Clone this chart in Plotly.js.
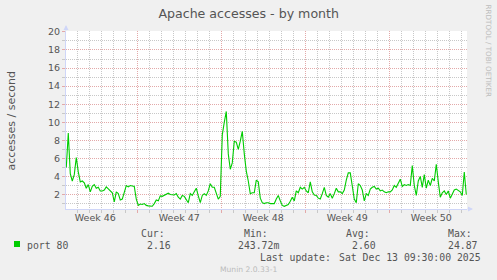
<!DOCTYPE html>
<html><head><meta charset="utf-8">
<script src="https://cdn.plot.ly/plotly-3.0.1.min.js"></script>
<style>html,body{margin:0;padding:0;background:#f0f0f0;}#chart{width:497px;height:280px;}</style>
</head><body><div id="chart"></div>
<script>
// ---- data ----
const seriesName = 'port 80';
const seriesStart = '2025-11-11T02:00:00Z';
const stepHours = 4;
const accesses = [
 5.0, 8.8, 4.3, 3.5, 4.2, 6.1, 4.5, 3.4, 3.5, 3.3,
 2.7, 3.1, 2.3, 2.9, 3.1, 2.7, 2.8, 2.4, 2.4, 2.5,
 2.85, 2.6, 2.4, 2.2, 1.2, 2.3, 2.1, 1.4, 1.5, 2.2,
 3.0, 2.85, 3.0, 2.95, 2.9, 1.5, 0.8, 0.95, 0.9, 1.0,
 0.8, 0.75, 0.75, 0.7, 1.0, 1.4, 1.3, 1.85, 1.8, 1.9,
 2.0, 2.15, 2.0, 2.0, 1.95, 2.1, 1.7, 1.5, 1.9, 1.8,
 1.5, 1.1, 2.1, 1.9, 2.3, 2.7, 1.85, 1.1, 1.9, 2.1,
 1.9, 2.4, 3.2, 2.8, 2.8, 2.1, 1.5, 1.8, 8.6, 10.0,
 11.2, 6.5, 4.8, 5.5, 7.9, 7.8, 7.0, 7.9, 9.0, 6.5,
 4.6, 3.5, 2.1, 2.2, 2.2, 3.6, 3.4, 1.6, 1.1, 1.0,
 1.1, 1.1, 1.0, 1.0, 1.0, 1.5, 1.9, 1.3, 0.8, 0.7,
 0.8, 0.9, 1.25, 1.7, 1.3, 2.4, 2.2, 2.8, 2.6, 2.8,
 2.4, 2.2, 3.4, 2.3, 1.95, 1.9, 1.6, 1.5, 2.1, 2.8,
 1.9, 1.7, 2.1, 1.6, 2.1, 2.7, 2.3, 2.3, 2.1, 2.5,
 3.6, 4.4, 4.4, 3.0, 1.5, 1.1, 3.2, 3.0, 2.5, 1.3,
 2.1, 1.9, 2.6, 2.8, 2.9, 2.6, 2.7, 2.4, 2.5, 2.3,
 2.2, 2.3, 2.3, 2.5, 3.0, 2.8, 3.2, 3.7, 2.9, 3.1,
 3.0, 3.1, 3.0, 5.2, 3.0, 1.9, 3.5, 4.0, 2.8, 4.2,
 2.7, 3.6, 3.0, 3.8, 3.5, 5.35, 3.4, 1.7, 2.2, 2.4,
 2.0, 2.4, 1.6, 2.0, 2.5, 2.6, 2.4, 2.3, 1.9, 4.5,
 2.0
];
const weekCenters = ['2025-11-13 12:00','2025-11-20 12:00','2025-11-27 12:00','2025-12-04 12:00','2025-12-11 12:00'];
const weekLabels = ['Week 46','Week 47','Week 48','Week 49','Week 50'];
const statLabels = ['Cur:','Min:','Avg:','Max:'];
const statValues = ['2.16','243.72m','2.60','24.87'];
const lastUpdateLabel = 'Last update:';
const lastUpdate = 'Sat Dec 13 09:30:00 2025';
const chartTitle = 'Apache accesses - by month';
const yTitle = 'accesses / second';
const versionText = 'Munin 2.0.33-1';
const rrdText = 'RRDTOOL / TOBI OETIKER';

// ---- build ----
const t0 = Date.parse(seriesStart);
const times = accesses.map((_, i) => new Date(t0 + i * stepHours * 3600e3).toISOString().replace('T', ' ').slice(0, 19));

const L = 66, R = 467, T = 31, B = 209, W = 497, H = 280;
const px = x => (x - L) / (R - L);
const py = y => (B - y) / (B - T);

const GREEN = '#00cc00', MGRID = '#e3a9a9', GRID = '#c8c8c8', AXIS = '#cfd6f8', FONT = '#555555';
const mono = 'DejaVu Sans Mono, monospace';
const sans = 'DejaVu Sans, sans-serif';

function txt(text, x, y, opts) {
  return Object.assign({
    text: text, xref: 'paper', yref: 'paper', x: px(x), y: py(y),
    xanchor: 'left', yanchor: 'middle', showarrow: false,
    borderpad: 0, borderwidth: 0,
    font: {family: mono, size: 9.8, color: FONT}
  }, opts || {});
}

const annotations = [];
annotations.push(txt(yTitle, 10.5, 120, {xanchor: 'center', textangle: -90, font: {family: sans, size: 11, color: FONT}}));
const RRD_TOP = 5, RRD_LEN = 92;
annotations.push(txt(rrdText, 488.5, RRD_TOP + RRD_LEN / 2, {xanchor: 'center', textangle: 90, font: {family: sans, size: 7.2, color: '#bdbdbd'}}));
annotations.push(txt(seriesName, 26.7, 245));
const hdrX = [140.7, 244, 346, 447.7];
const valX = [146.7, 237.7, 351.7, 447.7];
statLabels.forEach((s, i) => annotations.push(txt(s, hdrX[i], 233.3)));
statValues.forEach((s, i) => annotations.push(txt(s, valX[i], 245)));
annotations.push(txt(lastUpdateLabel, 331, 257.7, {xanchor: 'right'}));
annotations.push(txt(lastUpdate, 339.3, 257.7));
annotations.push(txt(versionText, 248.7, 269.3, {xanchor: 'center', font: {family: sans, size: 7.6, color: '#bbbbbb'}}));
// axis arrows
annotations.push({xref: 'paper', yref: 'paper', x: 0, y: py(25), ax: 0, ay: 7, text: '', showarrow: true,
  arrowhead: 2, arrowsize: 1, arrowwidth: 1, arrowcolor: AXIS, standoff: 0});
annotations.push({xref: 'paper', yref: 'paper', x: px(473), y: 0, ax: -7, ay: 0, text: '', showarrow: true,
  arrowhead: 2, arrowsize: 1, arrowwidth: 1, arrowcolor: AXIS, standoff: 0});

const traces = [
  {x: times, y: accesses, type: 'scatter', mode: 'lines', name: seriesName,
   line: {color: GREEN, width: 1.1}, hoverinfo: 'skip'},
  {x: weekCenters, y: weekCenters.map(() => null), xaxis: 'x2', yaxis: 'y', type: 'scatter', mode: 'lines',
   showlegend: false, hoverinfo: 'skip'}
];

const xRange = ['2025-11-11 01:26', '2025-12-14 11:26'];

const layout = {
  width: W, height: H,
  paper_bgcolor: '#f0f0f0', plot_bgcolor: '#ffffff',
  margin: {l: L, r: W - R, t: T, b: H - B, pad: 0},
  showlegend: false,
  font: {family: sans, color: FONT},
  title: {text: chartTitle, font: {family: sans, size: 12.6, color: FONT},
          x: 248.7 / W, xanchor: 'center', xref: 'container', y: 1 - 13.3 / H, yanchor: 'middle', yref: 'container'},
  xaxis: {
    type: 'date', range: xRange, tickmode: 'linear', tick0: '2025-11-17', dtick: 604800000,
    showticklabels: false, ticks: 'outside', ticklen: 3, tickcolor: MGRID, tickwidth: 1,
    showgrid: true, gridcolor: MGRID, griddash: '1px,1px', gridwidth: 1,
    showline: true, linecolor: AXIS, linewidth: 1, zeroline: false,
    minor: {tickmode: 'linear', tick0: '2025-11-17', dtick: 86400000, showgrid: true, gridcolor: GRID,
            griddash: '1px,1px', gridwidth: 1, ticks: 'outside', ticklen: 3, tickcolor: GRID},
    fixedrange: true
  },
  xaxis2: {
    type: 'date', range: xRange, overlaying: 'x', anchor: 'y', side: 'bottom',
    tickmode: 'array', tickvals: weekCenters, ticktext: weekLabels,
    showgrid: false, ticks: '', showline: false, zeroline: false,
    tickfont: {family: sans, size: 9.5, color: FONT}, ticklabelstandoff: 1
  },
  yaxis: {
    range: [0.4, 20.1], tickmode: 'linear', tick0: 0, dtick: 2,
    ticks: 'outside', ticklen: 3, tickcolor: MGRID,
    showgrid: true, gridcolor: MGRID, griddash: '1px,1px', gridwidth: 1,
    showline: true, linecolor: AXIS, linewidth: 1, zeroline: false,
    tickfont: {family: sans, size: 9.5, color: FONT},
    minor: {tickmode: 'linear', tick0: 0, dtick: 1, showgrid: true, gridcolor: GRID,
            griddash: '1px,1px', gridwidth: 1, ticks: 'outside', ticklen: 3, tickcolor: GRID},
    fixedrange: true
  },
  shapes: [
    {type: 'rect', xref: 'paper', yref: 'paper', x0: px(14), x1: px(20), y0: py(247), y1: py(241),
     fillcolor: GREEN, line: {width: 0}}
  ],
  annotations: annotations
};

Plotly.newPlot('chart', traces, layout, {staticPlot: true, displayModeBar: false}).then(gd => {
  // fit the vertical RRDTOOL credit to the length it has in the reference
  const nodes = gd.querySelectorAll('.annotation-text');
  nodes.forEach(n => {
    if (n.textContent === rrdText && n.getComputedTextLength) {
      const len = n.getComputedTextLength();
      if (len > 0 && Math.abs(len - RRD_LEN) > 3) {
        const size = 7.2 * RRD_LEN / len;
        Plotly.relayout(gd, {'annotations[1].font.size': size});
      }
    }
  });
});
</script>
</body></html>
